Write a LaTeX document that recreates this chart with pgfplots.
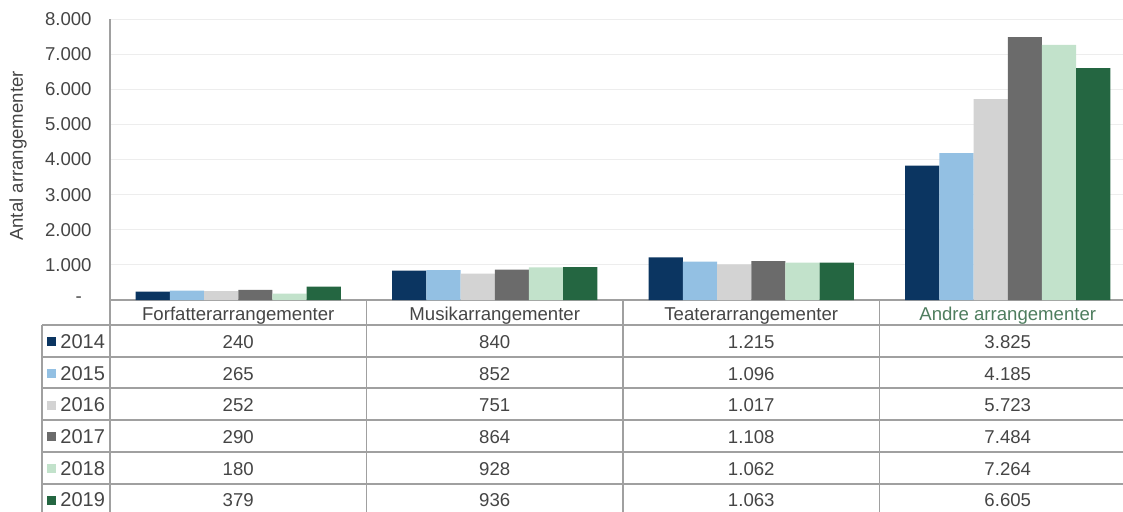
\documentclass[border=0pt]{standalone}
\usepackage{fontspec}
\setmainfont{Liberation Sans}
\usepackage{pgfplots}
\pgfplotsset{compat=1.18}
\definecolor{c14}{HTML}{0B3561}
\definecolor{c15}{HTML}{93C0E3}
\definecolor{c16}{HTML}{D3D3D3}
\definecolor{c17}{HTML}{6B6B6B}
\definecolor{c18}{HTML}{C2E2CB}
\definecolor{c19}{HTML}{246641}
\definecolor{txt}{HTML}{454545}
\definecolor{rule}{HTML}{A0A0A0}
\definecolor{grn}{HTML}{4E7D5E}
\newcommand{\tfont}{\fontsize{9.3}{11}\selectfont}

\begin{document}
\begin{tikzpicture}
\begin{axis}[
  at={(55pt,-150pt)}, anchor=south west,
  scale only axis, width=513pt, height=140.5pt,
  xmin=-0.5, xmax=3.5, ymin=0, ymax=8000,
  ybar=0pt, bar width=17.1pt,
  axis x line*=bottom, axis y line*=left,
  axis line style={draw=rule, line width=1pt, -},
  xtick=\empty,
  ytick={0,1000,...,8000},
  yticklabels={{\makebox[8pt][l]{-}},1.000,2.000,3.000,4.000,5.000,6.000,7.000,8.000},
  ymajorgrids, major grid style={draw=black!7, line width=0.5pt},
  major tick length=0pt,
  yticklabel style={font=\tfont, text=txt, inner sep=0pt, xshift=-9pt},
  clip=false,
]
  \addplot[fill=c14, draw=none] coordinates {(0,240) (1,840) (2,1215) (3,3825)};
  \addplot[fill=c15, draw=none] coordinates {(0,265) (1,852) (2,1096) (3,4185)};
  \addplot[fill=c16, draw=none] coordinates {(0,252) (1,751) (2,1017) (3,5723)};
  \addplot[fill=c17, draw=none] coordinates {(0,290) (1,864) (2,1108) (3,7484)};
  \addplot[fill=c18, draw=none] coordinates {(0,180) (1,928) (2,1062) (3,7264)};
  \addplot[fill=c19, draw=none] coordinates {(0,379) (1,936) (2,1063) (3,6605)};
\end{axis}

\begin{scope}[x=0.5pt, y=-0.5pt, font=\tfont, text=txt]
  % y axis title
  \node[rotate=90] at (18,156) {Antal arrangementer};
  % table grid
  \begin{scope}[draw=rule, line width=0.75pt]
    \draw (42,325) -- (1140,325);
    \foreach \yy in {357,388,420,452,484} \draw (42,\yy) -- (1140,\yy);
    \draw (42,325) -- (42,520);
    \foreach \xx in {110,366.5,623,879.5,1136} \draw (\xx,300) -- (\xx,520);
  \end{scope}
  % header
  \node[anchor=base] at (238.25,320) {Forfatterarrangementer};
  \node[anchor=base] at (494.75,320) {Musikarrangementer};
  \node[anchor=base] at (751.25,320) {Teaterarrangementer};
  \node[anchor=base, text=grn] at (1007.75,320) {Andre arrangementer};
  % rows
  \foreach \yb/\cc/\yr/\va/\vb/\vc/\vd in {
      348/c14/2014/240/840/1.215/3.825,
      380/c15/2015/265/852/1.096/4.185,
      411.5/c16/2016/252/751/1.017/5.723,
      443/c17/2017/290/864/1.108/7.484,
      475/c18/2018/180/928/1.062/7.264,
      506.5/c19/2019/379/936/1.063/6.605} {
    \fill[\cc] (47,\yb-11) rectangle (56,\yb-2);
    \node[anchor=base west, inner sep=0pt] at (60,\yb) {\fontsize{10}{12}\selectfont\yr};
    \node[anchor=base] at (238.25,\yb) {\va};
    \node[anchor=base] at (494.75,\yb) {\vb};
    \node[anchor=base] at (751.25,\yb) {\vc};
    \node[anchor=base] at (1007.75,\yb) {\vd};
  }
  \pgfresetboundingbox
  \path[use as bounding box] (0,0) rectangle (1123,511);
\end{scope}
\end{tikzpicture}
\end{document}
